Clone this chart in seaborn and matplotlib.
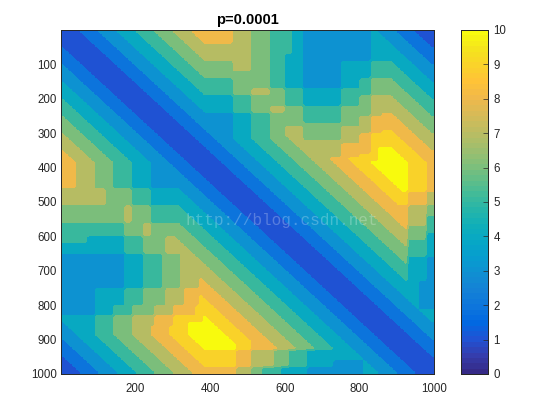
import numpy as np
import seaborn as sns
import matplotlib
matplotlib.use('Agg')
import matplotlib.pyplot as plt
from matplotlib.colors import LinearSegmentedColormap, ListedColormap, BoundaryNorm

# matrix is symmetric, each row is read from the diagonal to the right edge
# as value:number_of_cells, one cell is 10 samples
upper_runs = [
    "1:5 2:5 3:5 4:5 5:5 6:5 7:5 8:11 7:5 6:5 5:6 4:3 3:18 4:2 3:5 2:5 1:5",
    "1:5 2:5 3:5 4:5 5:5 6:5 7:5 8:10 7:5 6:5 5:6 4:3 3:18 4:3 3:5 2:5 1:4",
    "1:5 2:5 3:5 4:5 5:5 6:5 7:5 8:9 7:5 6:5 5:6 4:3 3:18 4:4 3:5 2:5 1:3",
    "1:5 2:5 3:5 4:5 5:5 6:5 7:5 8:8 7:5 6:5 5:6 4:3 3:18 4:5 3:5 2:5 1:2",
    "1:5 2:5 3:5 4:5 5:5 6:5 7:17 6:5 5:6 4:3 3:18 4:6 3:5 2:5 1:1",
    "1:5 2:5 3:5 4:5 5:5 6:5 7:16 6:5 5:6 4:3 3:18 4:7 3:5 2:5",
    "1:5 2:5 3:5 4:5 5:5 6:5 7:15 6:5 5:6 4:3 3:18 4:8 3:5 2:4",
    "1:5 2:5 3:5 4:5 5:5 6:5 7:14 6:5 5:4 4:5 3:18 4:9 3:5 2:3",
    "1:5 2:5 3:5 4:5 5:5 6:5 7:13 6:5 5:4 4:5 3:18 4:10 3:5 2:2",
    "1:5 2:5 3:5 4:5 5:5 6:12 7:5 6:5 5:4 4:5 3:10 4:8 5:6 4:5 3:5 2:1",
    "1:5 2:5 3:5 4:5 5:5 6:11 7:5 6:5 5:4 4:5 3:10 4:8 5:7 4:5 3:5",
    "1:5 2:5 3:5 4:5 5:5 6:10 7:5 6:5 5:4 4:5 3:10 4:8 5:8 4:5 3:4",
    "1:5 2:5 3:5 4:5 5:5 6:19 5:4 4:5 3:10 4:8 5:9 4:5 3:3",
    "1:5 2:5 3:5 4:5 5:5 6:18 5:4 4:5 3:10 4:8 5:10 4:5 3:2",
    "1:5 2:5 3:5 4:5 5:12 6:10 5:4 4:5 3:10 4:5 5:3 6:6 5:5 4:5 3:1",
    "1:5 2:5 3:5 4:5 5:11 6:10 5:4 4:5 3:10 4:5 5:3 6:7 5:5 4:5",
    "1:5 2:5 3:5 4:5 5:10 6:10 5:4 4:5 3:10 4:5 5:3 6:8 5:5 4:4",
    "1:5 2:5 3:5 4:5 5:9 6:5 7:5 6:4 5:5 4:10 5:8 6:9 5:5 4:3",
    "1:5 2:5 3:5 4:5 5:8 6:5 7:5 6:4 5:5 4:10 5:8 6:10 5:5 4:2",
    "1:5 2:5 3:5 4:12 5:5 6:9 5:5 4:10 5:5 6:3 7:6 6:5 5:5 4:1",
    "1:5 2:5 3:5 4:11 5:5 6:9 5:5 4:10 5:5 6:3 7:7 6:5 5:5",
    "1:5 2:5 3:5 4:10 5:5 6:9 5:5 4:10 5:5 6:3 7:8 6:5 5:4",
    "1:5 2:5 3:5 4:9 5:5 6:5 7:4 6:5 5:10 6:8 7:9 6:5 5:3",
    "1:5 2:5 3:5 4:8 5:5 6:5 7:4 6:5 5:10 6:8 7:10 6:5 5:2",
    "1:5 2:5 3:12 4:5 5:5 6:9 5:10 6:8 7:3 8:3 7:5 6:5 5:1",
    "1:5 2:5 3:11 4:5 5:5 6:9 5:10 6:5 7:3 8:7 7:5 6:5",
    "1:5 2:5 3:10 4:5 5:5 6:9 5:10 6:5 7:3 8:8 7:5 6:4",
    "1:5 2:5 3:9 4:5 5:5 6:24 7:3 8:9 7:5 6:3",
    "1:5 2:5 3:8 4:5 5:5 6:4 7:5 6:10 7:8 8:10 7:5 6:2",
    "1:5 2:5 3:7 4:5 5:5 6:4 7:5 6:10 7:8 8:3 9:3 8:5 7:5 6:1",
    "1:5 2:5 3:6 4:5 5:5 6:4 7:5 6:10 7:5 8:3 9:7 8:5 7:5",
    "1:5 2:5 3:5 4:5 5:5 6:5 7:4 6:10 7:5 8:3 9:8 8:5 7:4",
    "1:5 2:5 3:5 4:5 5:5 6:5 7:18 8:3 9:9 8:5 7:3",
    "1:5 2:5 3:5 4:5 5:5 6:5 7:12 8:8 9:10 8:5 7:2",
    "1:5 2:5 3:5 4:5 5:5 6:5 7:11 8:8 9:2 10:4 9:5 8:5 7:1",
    "1:5 2:5 3:5 4:5 5:5 6:5 7:10 8:8 9:2 10:5 9:5 8:5",
    "1:5 2:5 3:5 4:5 5:5 6:5 7:9 8:5 9:5 10:6 9:5 8:4",
    "1:5 2:5 3:5 4:5 5:5 6:5 7:5 8:5 9:8 10:7 9:5 8:3",
    "1:5 2:5 3:5 4:5 5:5 6:5 7:5 8:5 9:5 10:10 9:5 8:2",
    "1:5 2:5 3:5 4:5 5:5 6:5 7:5 8:5 9:5 10:9 9:5 8:2",
    "1:5 2:5 3:5 4:5 5:5 6:5 7:5 8:5 9:5 10:8 9:5 8:2",
    "1:5 2:5 3:5 4:5 5:5 6:5 7:5 8:5 9:5 10:7 9:5 8:2",
    "1:5 2:5 3:5 4:5 5:5 6:5 7:5 8:5 9:5 10:6 9:5 8:2",
    "1:5 2:5 3:5 4:5 5:5 6:5 7:5 8:5 9:5 10:5 9:5 8:2",
    "1:5 2:5 3:5 4:5 5:5 6:5 7:5 8:5 9:5 10:4 9:5 8:2",
    "1:5 2:5 3:5 4:5 5:5 6:5 7:5 8:5 9:5 10:3 9:5 8:2",
    "1:5 2:5 3:5 4:5 5:5 6:5 7:5 8:5 9:5 10:2 9:5 8:2",
    "1:5 2:5 3:5 4:5 5:5 6:5 7:5 8:5 9:6 8:5 7:2",
    "1:5 2:5 3:5 4:5 5:5 6:5 7:5 8:5 9:5 8:5 7:2",
    "1:5 2:5 3:5 4:5 5:5 6:5 7:5 8:5 9:4 8:5 7:2",
    "1:5 2:5 3:5 4:5 5:5 6:5 7:5 8:5 9:3 8:5 7:2",
    "1:5 2:5 3:5 4:5 5:5 6:5 7:5 8:7 7:5 6:2",
    "1:5 2:5 3:5 4:5 5:5 6:5 7:5 8:6 7:5 6:2",
    "1:5 2:5 3:5 4:5 5:5 6:5 7:5 8:5 7:5 6:2",
    "1:5 2:5 3:5 4:5 5:5 6:5 7:5 8:4 7:5 5:2",
    "1:5 2:5 3:5 4:5 5:5 6:5 7:5 8:3 7:5 5:2",
    "1:5 2:5 3:5 4:5 5:5 6:5 7:5 8:2 7:5 5:2",
    "1:5 2:5 3:5 4:5 5:5 6:5 7:5 8:1 6:5 5:2",
    "1:5 2:5 3:5 4:5 5:5 6:5 7:5 6:5 5:2",
    "1:5 2:5 3:5 4:5 5:5 6:5 7:4 6:5 4:2",
    "1:5 2:5 3:5 4:5 5:5 6:5 7:3 6:5 4:2",
    "1:5 2:5 3:5 4:5 5:5 6:5 7:2 5:5 4:2",
    "1:5 2:5 3:5 4:5 5:5 6:5 7:1 5:5 4:2",
    "1:5 2:5 3:5 4:5 5:5 6:5 5:5 4:2",
    "1:5 2:5 3:5 4:5 5:5 6:4 5:5 4:2",
    "1:5 2:5 3:5 4:5 5:5 6:3 5:5 4:2",
    "1:5 2:5 3:5 4:5 5:5 6:2 4:5 3:2",
    "1:5 2:5 3:5 4:5 5:5 6:1 4:5 3:2",
    "1:5 2:5 3:5 4:5 5:5 4:5 3:2",
    "1:5 2:5 3:5 4:5 5:4 4:5 3:2",
    "1:5 2:5 3:5 4:5 5:3 4:5 3:2",
    "1:5 2:5 3:5 4:5 5:2 4:5 3:2",
    "1:5 2:5 3:5 4:5 5:1 4:5 3:2",
    "1:5 2:5 3:5 4:8 3:4",
    "1:5 2:5 3:5 4:7 3:4",
    "1:5 2:5 3:5 4:6 3:4",
    "1:5 2:5 3:5 4:5 3:4",
    "1:5 2:5 3:5 4:4 3:4",
    "1:5 2:5 3:5 4:3 3:4",
    "1:5 2:5 3:5 4:2 3:4",
    "1:5 2:5 3:5 4:1 3:4",
    "1:5 2:5 3:5 4:4",
    "1:5 2:5 3:5 4:3",
    "1:5 2:5 3:5 4:2",
    "1:5 2:5 3:5 4:1",
    "1:5 2:5 3:5",
    "1:5 2:5 3:4",
    "1:5 2:5 3:3",
    "1:5 2:5 3:2",
    "1:5 2:5 3:1",
    "1:5 2:5",
    "1:5 2:4",
    "1:5 2:3",
    "1:5 2:2",
    "1:5 2:1",
    "1:5",
    "1:4",
    "1:3",
    "1:2",
    "1:1",
]

x_ticks = [200, 400, 600, 800, 1000]
y_ticks = [100, 200, 300, 400, 500, 600, 700, 800, 900, 1000]
cbar_ticks = [0, 1, 2, 3, 4, 5, 6, 7, 8, 9, 10]
title_text = 'p=0.0001'
watermark = 'http://blog.csdn.net'

parula = [
    (0.2081, 0.1663, 0.5292), (0.2081, 0.2386, 0.6771), (0.1253, 0.3242, 0.8303),
    (0.0060, 0.4086, 0.8828), (0.0498, 0.4586, 0.8641), (0.0779, 0.5040, 0.8384),
    (0.0641, 0.5570, 0.8240), (0.0265, 0.6137, 0.8135), (0.0228, 0.6535, 0.7768),
    (0.0590, 0.6838, 0.7254), (0.1453, 0.7098, 0.6646), (0.2586, 0.7317, 0.5954),
    (0.3953, 0.7459, 0.5244), (0.5300, 0.7491, 0.4661), (0.6473, 0.7456, 0.4188),
    (0.7525, 0.7384, 0.3768), (0.8507, 0.7299, 0.3360), (0.9450, 0.7261, 0.2886),
    (0.9990, 0.7653, 0.2164), (0.9789, 0.8271, 0.1633), (0.9589, 0.8949, 0.1132),
    (0.9763, 0.9831, 0.0538),
]

grid = np.zeros((100, 100))
for i, row in enumerate(upper_runs):
    vals = []
    for tok in row.split():
        v, n = tok.split(':')
        vals += [int(v)] * int(n)
    vals = vals[:100 - i]
    grid[i, i:i + len(vals)] = vals
    grid[i:i + len(vals), i] = vals

plt.rcParams['font.family'] = ['Liberation Sans', 'DejaVu Sans']
cmap = LinearSegmentedColormap.from_list('parula', parula, N=64)

fig = plt.figure(figsize=(5.6, 4.2), dpi=100)
ax = fig.add_axes([61 / 560, 1 - 374 / 420, 373 / 560, 344 / 420])
cax = fig.add_axes([461 / 560, 1 - 374 / 420, 27 / 560, 344 / 420])

sns.heatmap(grid, ax=ax, cbar_ax=cax, cmap=cmap, vmin=0, vmax=10,
            xticklabels=False, yticklabels=False)

# the cell staircase shows on the diagonals, the levels on top keep them straight
levels = ListedColormap([cmap(k / 10) for k in range(11)])
ax.imshow(grid, cmap=levels, norm=BoundaryNorm(np.arange(-0.5, 11.5), 11),
          extent=(0, 100, 100, 0), aspect='auto', interpolation='bilinear',
          interpolation_stage='data', zorder=2)
ax.set_xlim(0, 100)
ax.set_ylim(100, 0)

dark = '#262626'
ax.set_xticks([t / 10 for t in x_ticks])
ax.set_xticklabels(x_ticks)
ax.set_yticks([t / 10 for t in y_ticks])
ax.set_yticklabels(y_ticks, rotation=0)
ax.tick_params(direction='in', top=True, right=True, length=2.6, width=0.5,
               labelsize=8.3, color=dark, labelcolor=dark, pad=3)
ax.tick_params(axis='x', pad=6.5)
for s in ax.spines.values():
    s.set_visible(True)
    s.set_linewidth(0.7)
    s.set_color(dark)
ax.set_title(title_text, fontsize=10.5, fontweight='bold', color='black', pad=4)

ax.text(0.335, 0.445, watermark, transform=ax.transAxes, family='Liberation Mono',
        fontsize=11.6, color='white', alpha=0.25, va='center', ha='left')

cax.set_yticks(cbar_ticks)
cax.set_yticklabels(cbar_ticks)
cax.tick_params(axis='y', direction='in', length=3.5, width=0.5, labelsize=8.3,
                color=dark, labelcolor=dark, pad=4)
for s in cax.spines.values():
    s.set_visible(True)
    s.set_linewidth(0.7)
    s.set_color(dark)

fig.savefig('out.png', dpi=100)
